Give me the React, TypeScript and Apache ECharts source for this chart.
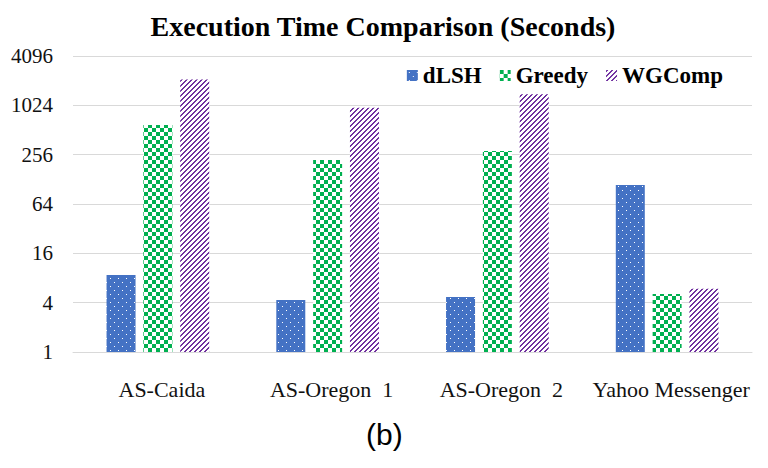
import React, { useEffect, useRef } from "react";
import * as echarts from "echarts";

const categories = ["AS-Caida", "AS-Oregon  1", "AS-Oregon  2", "Yahoo Messenger"];
const dLSH = [8.7, 4.3, 4.7, 109];
const greedy = [590, 220, 283, 5.1];
const wgcomp = [2110, 955, 1400, 5.9];
const yTicks = [1, 4, 16, 64, 256, 1024, 4096];

function makeTile(size: number, draw: (ctx: CanvasRenderingContext2D) => void) {
  const c = document.createElement("canvas");
  c.width = size;
  c.height = size;
  const ctx = c.getContext("2d")!;
  draw(ctx);
  return c;
}

function dotsPattern() {
  const img = makeTile(8, (ctx) => {
    ctx.fillStyle = "#4472C4";
    ctx.fillRect(0, 0, 8, 8);
    ctx.fillStyle = "#ffffff";
    ctx.fillRect(2, 2, 1, 1);
    ctx.fillRect(6, 6, 1, 1);
  });
  return { image: img, repeat: "repeat", imageWidth: 8, imageHeight: 8 } as any;
}

function checkPattern() {
  const img = makeTile(8, (ctx) => {
    ctx.fillStyle = "#ffffff";
    ctx.fillRect(0, 0, 8, 8);
    ctx.fillStyle = "#00B050";
    ctx.fillRect(0, 0, 4, 4);
    ctx.fillRect(4, 4, 4, 4);
  });
  return { image: img, repeat: "repeat", imageWidth: 8, imageHeight: 8 } as any;
}

function stripePattern() {
  const n = 10;
  const img = makeTile(n, (ctx) => {
    ctx.fillStyle = "#ffffff";
    ctx.fillRect(0, 0, n, n);
    ctx.fillStyle = "#7030A0";
    for (let x = 0; x < n; x++) {
      for (let y = 0; y < n; y++) {
        if ((x + y) % 5 < 2) ctx.fillRect(x, y, 1, 1);
      }
    }
  });
  return { image: img, repeat: "repeat", imageWidth: n, imageHeight: n } as any;
}

export default function App() {
  const ref = useRef<HTMLDivElement>(null);
  useEffect(() => {
    const chart = echarts.init(ref.current!, undefined, { renderer: "svg" });
    const serif = "Liberation Serif";
    const barW = 29;
    chart.setOption({
      animation: false,
      backgroundColor: "#ffffff",
      title: {
        text: "Execution Time Comparison (Seconds)",
        left: 378,
        textAlign: "center",
        top: 7,
        textStyle: { fontFamily: serif, fontWeight: "bold", fontSize: 28, color: "#000" },
      },
      legend: {
        right: 40,
        top: 59,
        itemWidth: 11,
        itemHeight: 11,
        itemGap: 18,
        icon: "rect",
        textStyle: { fontFamily: serif, fontWeight: "bold", fontSize: 23, color: "#000" },
        data: ["dLSH", "Greedy", "WGComp"],
      },
      grid: { left: 73, right: 16, top: 56, bottom: 116 },
      xAxis: {
        type: "category",
        data: categories,
        axisLine: { show: true, lineStyle: { color: "#d9d9d9" } },
        axisTick: { show: false },
        axisLabel: {
          fontFamily: serif,
          fontSize: 22,
          color: "#111",
          margin: 26,
          interval: 0,
          padding: [0, 0, 0, 8],
        },
      },
      yAxis: {
        type: "log",
        logBase: 4,
        min: 1,
        max: 4096,
        axisLine: { show: false },
        axisTick: { show: false },
        splitLine: { lineStyle: { color: "#d9d9d9", width: 1 } },
        axisLabel: {
          fontFamily: serif,
          fontSize: 21,
          color: "#111",
          margin: 20,
          formatter: (v: number) => {
            const r = Math.round(v);
            return yTicks.includes(r) ? String(r) : "";
          },
        },
      },
      series: [
        { name: "dLSH", type: "bar", data: dLSH, barWidth: barW, barGap: "27%", itemStyle: { color: dotsPattern() } },
        { name: "Greedy", type: "bar", data: greedy, barWidth: barW, barGap: "27%", itemStyle: { color: checkPattern() } },
        { name: "WGComp", type: "bar", data: wgcomp, barWidth: barW, barGap: "27%", itemStyle: { color: stripePattern() } },
      ],
      graphic: [
        {
          type: "text",
          left: 366,
          top: 419,
          style: { text: "(b)", font: "30px 'Liberation Sans', Arial, sans-serif", fill: "#000" },
        },
      ],
    });
    return () => chart.dispose();
  }, []);
  return (
    <div
      ref={ref}
      style={{ width: 768, height: 468, position: "fixed", left: 0, top: 0, background: "#fff" }}
    />
  );
}
